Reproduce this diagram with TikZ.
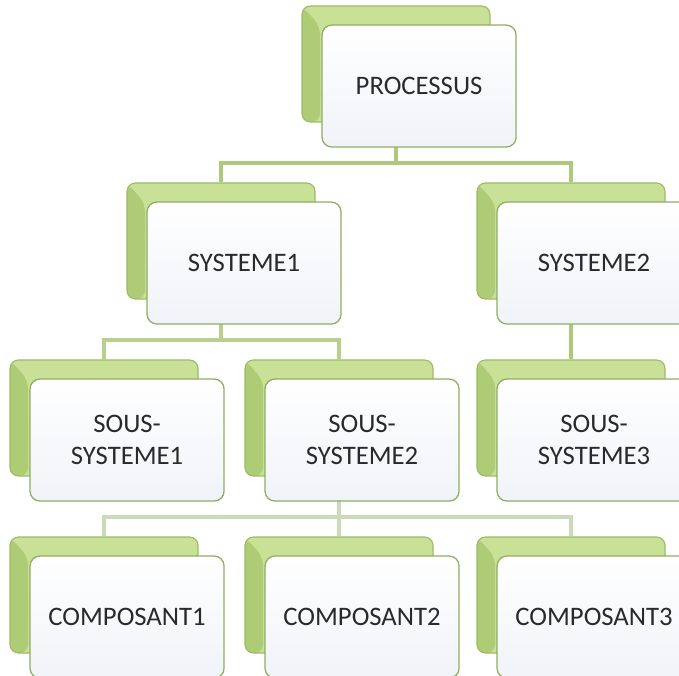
\documentclass[tikz,border=0pt]{standalone}
\usepackage{fontspec}
\setmainfont{Carlito}
\usepackage{tikz}
\usetikzlibrary{positioning,backgrounds}
\definecolor{leafgreen}{HTML}{C8E197}
\definecolor{leafshade}{HTML}{AECB76}
\definecolor{leafedge}{HTML}{9CBB62}
\definecolor{cardedge}{HTML}{8EAE62}
\definecolor{cardfill}{HTML}{F0F3F8}
\definecolor{linkgreen}{HTML}{ADC979}
\definecolor{linkmid}{HTML}{B8D08E}
\definecolor{linkpale}{HTML}{CBDAB8}
\definecolor{labelgrey}{HTML}{2A2A2A}

\begin{document}
\begin{tikzpicture}[
    back/.style={
        draw=leafedge,
        line width=0.8pt,
        rounded corners=6pt,
        fill=leafgreen,
        minimum width=4.7cm,
        minimum height=2.9cm,
        path picture={
            \fill[leafshade] (path picture bounding box.north west)
                -- ++(0.45,-0.5)
                -- ([xshift=0.45cm]path picture bounding box.south west)
                -- (path picture bounding box.south west) -- cycle;
        }
    },
    card/.style={
        draw=cardedge,
        line width=0.9pt,
        rounded corners=7pt,
        top color=white,
        bottom color=cardfill,
        anchor=north west,
        align=center,
        text=labelgrey,
        font=\fontsize{19}{22.8}\selectfont,
        minimum width=4.85cm,
        minimum height=3.05cm
    },
    link/.style={draw=linkgreen, line width=2.4pt},
    midlink/.style={draw=linkmid, line width=2.4pt},
    palelink/.style={draw=linkpale, line width=2.4pt}
]

\clip (0,0) rectangle (16.975,-16.9);

% GREEN BACK PLATES
\node[back] (procb) at (9.9,-1.6) {};

\node[back] (sys1b) at (5.525,-6.025) {};
\node[back] (sys2b) at (14.275,-6.025) {};

\node[back] (ss1b) at (2.6,-10.45) {};
\node[back] (ss2b) at (8.475,-10.45) {};
\node[back] (ss3b) at (14.275,-10.45) {};

\node[back] (comp1b) at (2.6,-14.875) {};
\node[back] (comp2b) at (8.475,-14.875) {};
\node[back] (comp3b) at (14.275,-14.875) {};

% JUNCTIONS
\coordinate (j1) at (9.9,-4.075);
\coordinate (j2) at (5.525,-8.5);
\coordinate (j3) at (8.475,-12.925);

% CONNECTORS
\begin{scope}[on background layer]
\draw[link] (procb) -- (j1);
\draw[link] (j1) -| (sys1b);
\draw[link] (j1) -| (sys2b);

\draw[midlink] (sys1b) -- (j2);
\draw[midlink] (j2) -| (ss1b);
\draw[midlink] (j2) -| (ss2b);
\draw[link] (sys2b) -- (ss3b);

\draw[palelink] (ss2b) -- (j3);
\draw[palelink] (j3) -| (comp1b);
\draw[palelink] (j3) -| (comp3b);
\draw[palelink] (j3) -- (comp2b);
\end{scope}

% WHITE CARDS
\node[card] (proc) at ([xshift=0.5cm,yshift=-0.475cm]procb.north west)
{PROCESSUS};

\node[card] (sys1) at ([xshift=0.5cm,yshift=-0.475cm]sys1b.north west)
{SYSTEME1};
\node[card] (sys2) at ([xshift=0.5cm,yshift=-0.475cm]sys2b.north west)
{SYSTEME2};

\node[card] (ss1) at ([xshift=0.5cm,yshift=-0.475cm]ss1b.north west)
{SOUS-\\SYSTEME1};
\node[card] (ss2) at ([xshift=0.5cm,yshift=-0.475cm]ss2b.north west)
{SOUS-\\SYSTEME2};
\node[card] (ss3) at ([xshift=0.5cm,yshift=-0.475cm]ss3b.north west)
{SOUS-\\SYSTEME3};

\node[card] (comp1) at ([xshift=0.5cm,yshift=-0.475cm]comp1b.north west)
{COMPOSANT1};
\node[card] (comp2) at ([xshift=0.5cm,yshift=-0.475cm]comp2b.north west)
{COMPOSANT2};
\node[card] (comp3) at ([xshift=0.5cm,yshift=-0.475cm]comp3b.north west)
{COMPOSANT3};

\end{tikzpicture}
\end{document}
